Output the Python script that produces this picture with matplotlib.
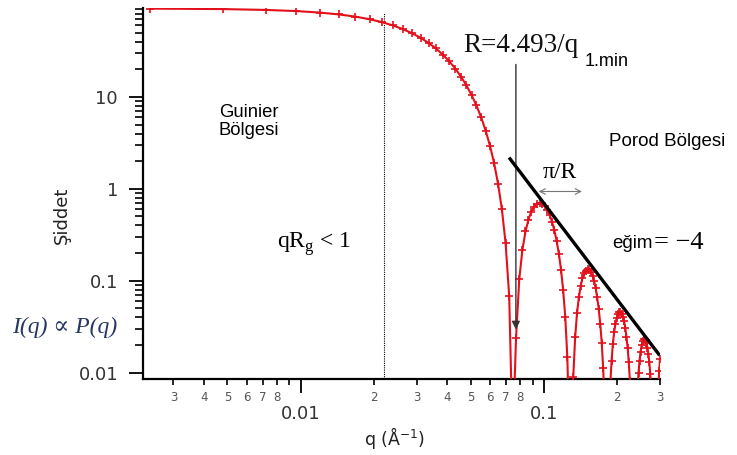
import matplotlib
matplotlib.use("Agg")
import matplotlib.pyplot as plt
from matplotlib.ticker import FixedLocator, FixedFormatter, NullFormatter

# scattering curve (q in 1/A, intensity)
q = [0.0024, 0.0048, 0.0072, 0.0096, 0.012, 0.0144, 0.0168, 0.0192, 0.0216, 0.024,
     0.0264, 0.0288, 0.0312, 0.0336, 0.036, 0.0384, 0.0408, 0.0432, 0.0456, 0.048,
     0.0504, 0.0528, 0.0552, 0.0576, 0.06, 0.0624, 0.0648, 0.0672, 0.0696, 0.072,
     0.0744, 0.0768, 0.0792, 0.0816, 0.084, 0.0864, 0.0888, 0.0912, 0.0936, 0.096,
     0.0984, 0.1008, 0.1032, 0.1056, 0.108, 0.1104, 0.1128, 0.1152, 0.1176, 0.12,
     0.1224, 0.1248, 0.1272, 0.1296, 0.132, 0.1344, 0.1368, 0.1392, 0.1416, 0.144,
     0.1464, 0.1488, 0.1512, 0.1536, 0.156, 0.1584, 0.1608, 0.1632, 0.1656, 0.168,
     0.1704, 0.1728, 0.1752, 0.1776, 0.18, 0.1824, 0.1848, 0.1872, 0.1896, 0.192,
     0.1944, 0.1968, 0.1992, 0.2016, 0.204, 0.2064, 0.2088, 0.2112, 0.2136, 0.216,
     0.2184, 0.2208, 0.2232, 0.2256, 0.228, 0.2304, 0.2328, 0.2352, 0.2376, 0.24,
     0.2424, 0.2448, 0.2472, 0.2496, 0.252, 0.2544, 0.2568, 0.2592, 0.2616, 0.264,
     0.2664, 0.2688, 0.2712, 0.2736, 0.276, 0.2784, 0.2808, 0.2832, 0.2856, 0.288,
     0.2904, 0.2928, 0.2952, 0.2976, 0.3]
intensity = [91.6, 90.5, 88.6, 86.1, 82.9, 79.1, 74.9, 70.2, 65.2, 60.0,
             54.6, 49.2, 43.9, 38.7, 33.7, 28.9, 24.5, 20.4, 16.7, 13.4,
             10.5, 8.08, 6.01, 4.31, 2.95, 1.91, 1.13, 0.596, 0.254, 0.0675,
             0.00172, 0.0236, 0.104, 0.218, 0.343, 0.463, 0.565, 0.641, 0.688, 0.704,
             0.690, 0.652, 0.593, 0.519, 0.437, 0.353, 0.271, 0.196, 0.131, 0.0787,
             0.0400, 0.0148, 0.00214, 0.00065, 0.00884, 0.0243, 0.0442, 0.0659, 0.0870, 0.106,
             0.120, 0.129, 0.133, 0.131, 0.124, 0.113, 0.0988, 0.0826, 0.0656, 0.0491,
             0.0340, 0.0212, 0.0112, 0.00438, 0.00074, 0.00012, 0.00236, 0.00696, 0.0132, 0.0203,
             0.0275, 0.0341, 0.0395, 0.0434, 0.0454, 0.0456, 0.0439, 0.0406, 0.0360, 0.0305,
             0.0245, 0.0186, 0.0130, 0.00817, 0.00434, 0.00169, 0.00027, 0.00007, 0.00117, 0.0034,
             0.00643, 0.00992, 0.0135, 0.0169, 0.0197, 0.0218, 0.0230, 0.0233, 0.0225, 0.0210,
             0.0187, 0.0159, 0.0129, 0.00975, 0.00683, 0.00427, 0.00224, 0.00084, 0.00011, 0.00012,
             0.00131, 0.00361, 0.00672, 0.0103, 0.0140]

# annotation data
guinier_q = 0.0221                 # dotted limit line
qmin1 = 0.0767                     # first minimum arrow
qmin1_I = [24.2, 0.0274]
porod_q = [0.0719, 0.2988]         # slope line
porod_I = [2.19, 0.0154]
period_q = [0.0927, 0.1472]        # pi/R arrow
period_I = 0.935

major_x = [0.01, 0.1]
major_x_lbl = ["0.01", "0.1"]
minor_x = [0.003, 0.004, 0.005, 0.006, 0.007, 0.008, 0.009,
           0.02, 0.03, 0.04, 0.05, 0.06, 0.07, 0.08, 0.09, 0.2, 0.3]
minor_x_lbl = ["3", "4", "5", "6", "7", "8", "",
               "2", "3", "4", "5", "6", "7", "8", "", "2", "3"]
major_y = [0.01, 0.1, 1, 10]
major_y_lbl = ["0.01", "0.1", "1", "10"]
minor_y = [m * d for d in (0.01, 0.1, 1, 10) for m in range(2, 10)]

W, H = 737, 455
fig = plt.figure(figsize=(W / 100, H / 100), dpi=100)
ax = fig.add_axes([143 / W, 1 - 379 / H, (660 - 143) / W, (379 - 8) / H])


def px(x, y):
    return x / W, 1 - y / H


ax.set_xscale("log")
ax.set_yscale("log")
ax.set_xlim(0.00225, 0.3)
ax.set_ylim(0.0085, 93)

ax.plot(q, intensity, color="#e3101c", lw=1.5, marker="+", ms=5.5, mew=1.2, zorder=3)

ax.axvline(guinier_q, ymin=0, ymax=(379 - 13) / 371, color="k", lw=0.8, ls=(0, (1, 1)))
ax.annotate("", xy=(qmin1, qmin1_I[1]), xytext=(qmin1, qmin1_I[0]),
            arrowprops=dict(arrowstyle="-|>", color="#333333", lw=1.0, mutation_scale=12))
ax.plot(porod_q, porod_I, color="k", lw=2.4, solid_capstyle="butt", zorder=4)
ax.annotate("", xy=(period_q[0], period_I), xytext=(period_q[1], period_I),
            arrowprops=dict(arrowstyle="<->", color="#777777", lw=0.8, mutation_scale=10))

for s in ("top", "right"):
    ax.spines[s].set_visible(False)
for s in ("left", "bottom"):
    ax.spines[s].set_linewidth(1.6)

ax.xaxis.set_major_locator(FixedLocator(major_x))
ax.xaxis.set_major_formatter(FixedFormatter(major_x_lbl))
ax.xaxis.set_minor_locator(FixedLocator(minor_x))
ax.xaxis.set_minor_formatter(FixedFormatter(minor_x_lbl))
ax.yaxis.set_major_locator(FixedLocator(major_y))
ax.yaxis.set_major_formatter(FixedFormatter(major_y_lbl))
ax.yaxis.set_minor_locator(FixedLocator(minor_y))
ax.yaxis.set_minor_formatter(NullFormatter())

ax.tick_params(axis="x", which="major", length=10, width=1.3, pad=9,
               labelsize=13, labelcolor="#333333")
ax.tick_params(axis="x", which="minor", length=4.5, width=1.2, pad=4,
               labelsize=8.5, labelcolor="#555555")
ax.tick_params(axis="y", which="major", length=10, width=1.3, pad=8,
               labelsize=13, labelcolor="#333333")
ax.tick_params(axis="y", which="minor", length=6, width=1.2)
for lbl in ax.get_xticklabels(which="both") + ax.get_yticklabels():
    lbl.set_family("DejaVu Sans")

sans = "Liberation Sans"
serif = ["Liberation Serif", "DejaVu Serif"]

fig.text(*px(62, 215), "Şiddet", rotation=90, ha="center", va="center",
         fontsize=13, family="DejaVu Sans", color="#222222")
fig.text(*px(395, 438), "q (Å$^{-1}$)", ha="center", va="center",
         fontsize=12.5, family="DejaVu Sans", color="#222222")

fig.text(*px(463, 52), "R=4.493/q", ha="left", va="baseline", fontsize=19.5,
         family=serif, color="#111111")
fig.text(*px(585, 62), "1.min", ha="left", va="center", fontsize=13, family=sans)
fig.text(*px(219, 104), "Guinier\nBölgesi", ha="left", va="top", fontsize=13.3,
         family=sans, linespacing=1.1)
fig.text(*px(609, 142), "Porod Bölgesi", ha="left", va="center", fontsize=13.5, family=sans)
fig.text(*px(543, 172), "π/R", ha="left", va="center", fontsize=17, family=serif)
fig.text(*px(612, 243), "eğim", ha="left", va="center", fontsize=13.5, family=sans)
fig.text(*px(654, 243), "= −4", ha="left", va="center", fontsize=19, family=serif)
fig.text(*px(277, 248), r"qR$_{\mathregular{g}}$ < 1", ha="left", va="baseline",
         fontsize=17, family=serif)
fig.text(*px(12, 327), "I(q) ∝ P(q)", ha="left", va="center", fontsize=17,
         family=serif, style="italic", color="#26375f")

fig.savefig("out.png", dpi=100)
